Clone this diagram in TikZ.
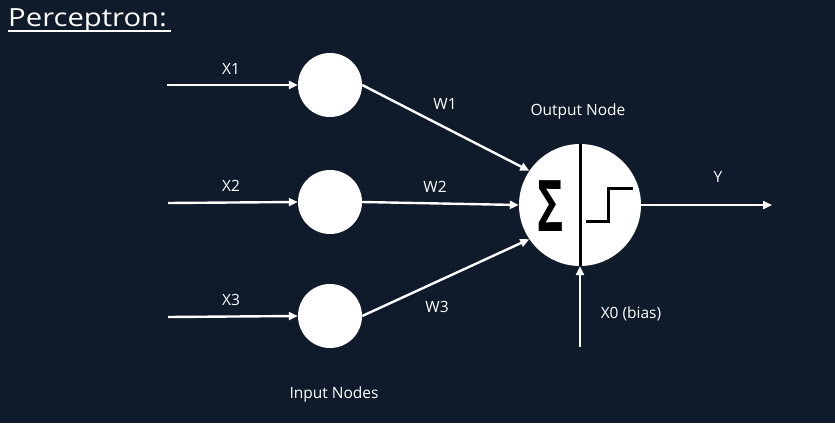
\documentclass[tikz,border=0pt]{standalone}
\usepackage{fontspec}
\setmainfont{Open Sans}
\usetikzlibrary{arrows.meta}
\definecolor{bg}{HTML}{0F1A2B}
\begin{document}
\begin{tikzpicture}[x=1pt,y=-1pt,
  inode/.style={circle,fill=white,draw=none,minimum size=64pt,inner sep=0pt},
  onode/.style={circle,fill=white,draw=none,minimum size=122pt,inner sep=0pt},
  conn/.style={white,line width=2.4pt,-{Triangle[length=9pt,width=8pt]}},
  lbl/.style={text=white,font=\fontsize{15.5}{17}\selectfont,inner sep=0pt},
  blk/.style={black,line width=3pt}]
\fill[bg] (0,0) rectangle (835,423);
\useasboundingbox (0,0) rectangle (835,423);
% title
\node[text=white,anchor=base west,inner sep=0pt,xscale=1.17,font=\fontsize{25}{28}\selectfont] (title) at (8,27) {Perceptron:};
\coordinate (ul1) at (8,31);
\coordinate (ul2) at (171,31);
\draw[white,line width=1.6pt] (ul1) -- (ul2);
% nodes
\node[inode] (in1) at (330,85) {};
\node[inode] (in2) at (330,202) {};
\node[inode] (in3) at (330,316) {};
\node[onode] (out) at (580,205) {};
% input arrows
\coordinate (s1) at (167,85);
\coordinate (s2) at (168,203);
\coordinate (s3) at (168,317);
\draw[conn] (s1) -- (in1.west);
\draw[conn] (s2) -- (in2.west);
\draw[conn] (s3) -- (in3.west);
\node[lbl] (x1) at (231,69) {X1};
\node[lbl] (x2) at (231,186) {X2};
\node[lbl] (x3) at (231,300) {X3};
% weights
\draw[conn] (in1.east) -- (out.146);
\draw[conn] (in2.east) -- (out.west);
\draw[conn] (in3.east) -- (out.214);
\node[lbl] (w1) at (445,104) {W1};
\node[lbl] (w2) at (435,187) {W2};
\node[lbl] (w3) at (437,307) {W3};
% output internals
\draw[blk] (out.north) -- (out.south);
\node[inner sep=0pt,text=black,xscale=0.78,yscale=1.25,font=\fontsize{57}{57}\selectfont\bfseries] (sig) at (551,206) {Σ};
\coordinate (st1) at (586,221);
\coordinate (st2) at (608,221);
\coordinate (st3) at (608,188);
\coordinate (st4) at (633,188);
\draw[blk] (st1) -- (st2) -- (st3) -- (st4);
\node[lbl] (outlbl) at (578,111) {Output Node};
% output arrow
\coordinate (yend) at (772,205);
\draw[conn] (out.east) -- (yend);
\node[lbl] (y) at (718,177) {Y};
% bias
\coordinate (b0) at (580,347);
\draw[conn] (b0) -- (out.south);
\node[lbl] (bias) at (631,314) {X0 (bias)};
\node[lbl] (inlbl) at (334,394) {Input Nodes};
\end{tikzpicture}
\end{document}
